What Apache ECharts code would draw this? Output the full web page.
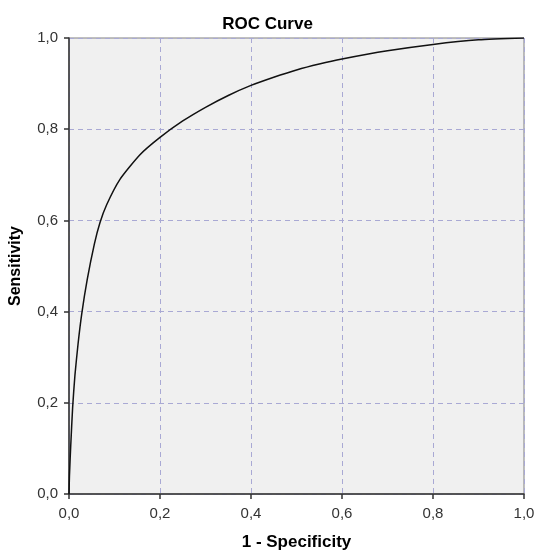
<!DOCTYPE html>
<html>
<head>
<meta charset="utf-8">
<script src="https://cdn.jsdelivr.net/npm/echarts@6/dist/echarts.min.js"></script>
<style>
  html, body { margin: 0; padding: 0; background: #fff; }
  #chart { width: 535px; height: 552px; }
</style>
</head>
<body>
<div id="chart"></div>
<script>
  // ROC points
  var fpr = [0, 0.001, 0.004, 0.008, 0.013, 0.02, 0.028, 0.04, 0.0557, 0.068, 0.083, 0.112, 0.156, 0.2, 0.25, 0.3, 0.35, 0.4, 0.45, 0.5, 0.55, 0.6, 0.7, 0.8, 0.9, 1.0];
  var tpr = [0, 0.04, 0.11, 0.19, 0.26, 0.33, 0.395, 0.47, 0.548, 0.595, 0.635, 0.69, 0.744, 0.782, 0.818, 0.848, 0.874, 0.896, 0.914, 0.93, 0.943, 0.954, 0.972, 0.986, 0.996, 1.0];

  var points = [];
  for (var i = 0; i < fpr.length; i++) {
    points.push([fpr[i], tpr[i]]);
  }

  var fmt = function (v) { return v.toFixed(1).replace('.', ','); };
  var font = 'Liberation Sans, Arial, sans-serif';
  var gridColor = '#a9a9d4';

  var chart = echarts.init(document.getElementById('chart'));
  chart.setOption({
    animation: false,
    title: {
      text: 'ROC Curve',
      left: 'center',
      top: 11,
      textStyle: { fontFamily: font, fontSize: 17, fontWeight: 'bold', color: '#000' }
    },
    grid: {
      left: 69, right: 11, top: 38, bottom: 58,
      outerBoundsMode: 'none',
      containLabel: false,
      show: true,
      backgroundColor: '#f0f0f0',
      borderColor: '#808080',
      borderWidth: 1
    },
    xAxis: {
      type: 'value',
      min: 0, max: 1, interval: 0.2,
      name: '1 - Specificity',
      nameLocation: 'middle',
      nameGap: 40,
      nameTextStyle: { fontFamily: font, fontSize: 17, fontWeight: 'bold', color: '#000' },
      axisLine: { lineStyle: { color: '#333', width: 1.5 } },
      axisTick: { show: true, length: 5, lineStyle: { color: '#333', width: 1.5 } },
      axisLabel: { formatter: fmt, margin: 12, fontFamily: font, fontSize: 15, color: '#333' },
      splitLine: { lineStyle: { color: gridColor, type: [5, 4], width: 1 } }
    },
    yAxis: {
      type: 'value',
      min: 0, max: 1, interval: 0.2,
      name: 'Sensitivity',
      nameLocation: 'middle',
      nameGap: 45,
      nameTextStyle: { fontFamily: font, fontSize: 16, fontWeight: 'bold', color: '#000' },
      axisLine: { show: true, lineStyle: { color: '#333', width: 1.5 } },
      axisTick: { show: true, length: 5, lineStyle: { color: '#333', width: 1.5 } },
      axisLabel: { formatter: fmt, margin: 11, fontFamily: font, fontSize: 15, color: '#333' },
      splitLine: { lineStyle: { color: gridColor, type: [5, 4], width: 1 } }
    },
    series: [{
      type: 'line',
      data: points,
      showSymbol: false,
      smooth: 0.2,
      lineStyle: { color: '#111', width: 1.5 }
    }]
  });
</script>
</body>
</html>
